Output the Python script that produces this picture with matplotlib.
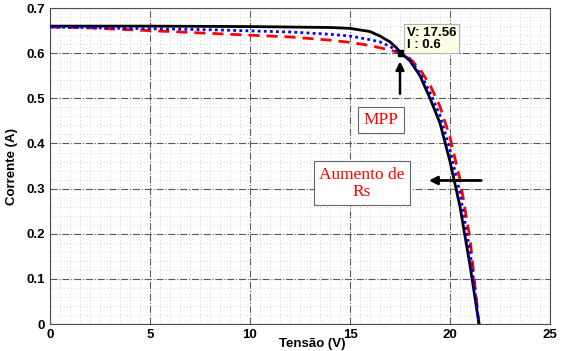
import numpy as np
import matplotlib.pyplot as plt
from matplotlib.ticker import MultipleLocator

# curva sem Rs (preta)
v_black = [0, 5, 10, 12, 14, 15, 16, 16.5, 17, 17.3, 17.56, 18, 18.5, 19, 19.5, 20, 20.5, 21, 21.45]
i_black = [0.66, 0.66, 0.659, 0.658, 0.657, 0.655, 0.648, 0.638, 0.625, 0.613, 0.6, 0.583, 0.55, 0.5, 0.445, 0.36, 0.26, 0.13, 0.0]

# Rs intermediaria (azul)
v_blue = [0, 4, 8, 12, 14, 15, 16, 16.5, 17, 17.56, 18, 18.5, 19, 19.5, 20, 20.5, 21, 21.45]
i_blue = [0.658, 0.655, 0.652, 0.647, 0.642, 0.638, 0.63, 0.625, 0.615, 0.6, 0.585, 0.556, 0.513, 0.462, 0.386, 0.29, 0.16, 0.0]

# Rs maior (vermelha)
v_red = [0, 2, 4, 6, 8, 10, 12, 14, 15, 16, 17, 17.56, 18, 18.5, 19, 19.5, 20, 20.5, 21, 21.45]
i_red = [0.658, 0.656, 0.652, 0.648, 0.644, 0.64, 0.636, 0.629, 0.624, 0.617, 0.607, 0.6, 0.588, 0.564, 0.53, 0.482, 0.414, 0.32, 0.19, 0.0]

v_mpp, i_mpp = 17.56, 0.6

x_ticks = [0, 5, 10, 15, 20, 25]
y_ticks = [0, 0.1, 0.2, 0.3, 0.4, 0.5, 0.6, 0.7]
y_labels = ['0', '0.1', '0.2', '0.3', '0.4', '0.5', '0.6', '0.7']

fig = plt.figure(figsize=(5.84, 3.51), dpi=100)
ax = fig.add_axes([0.0856, 0.0769, 0.8562, 0.9001])

ax.plot(v_black, i_black, color='black', lw=2, zorder=3)
ax.plot(v_blue, i_blue, color='blue', lw=2, ls=(0, (1, 1.2)), zorder=4)
ax.plot(v_red, i_red, color='red', lw=2, ls=(0, (4, 2.5)), zorder=2)
ax.plot([v_mpp], [i_mpp], marker='s', color='black', ms=5, zorder=6)

ax.set_xlim(0, 25)
ax.set_ylim(0, 0.7)
ax.set_xticks(x_ticks)
ax.set_yticks(y_ticks, y_labels)
ax.xaxis.set_minor_locator(MultipleLocator(0.5))
ax.yaxis.set_minor_locator(MultipleLocator(0.02))
ax.grid(which='major', ls='-.', color='0.35', lw=0.8)
ax.grid(which='minor', ls=(0, (1, 3)), color='0.78', lw=0.6)
ax.set_axisbelow(True)
ax.tick_params(which='both', direction='in', length=0)
for s in ax.spines.values():
    s.set_color('0.3')

for lab in ax.get_xticklabels() + ax.get_yticklabels():
    lab.set_fontfamily('Liberation Sans')
    lab.set_fontweight('bold')
    lab.set_fontsize(9.5)

ax.set_ylabel('Corrente (A)', fontfamily='Liberation Sans', fontweight='bold', fontsize=9.5, labelpad=6)
ax.set_xlabel('Tensão (V)', fontfamily='Liberation Sans', fontweight='bold', fontsize=9.5)
ax.xaxis.set_label_coords(0.524, -0.045)

# datatip
ax.text(17.85, 0.632, 'V: 17.56\nI : 0.6', fontsize=9.5, fontfamily='Liberation Sans',
        fontweight='bold', va='center', ha='left', linespacing=1.0,
        bbox=dict(boxstyle='square,pad=0.2', fc='#ffffe6', ec='0.7', lw=0.8), zorder=7)

# MPP
ax.annotate('', xy=(17.5, 0.588), xytext=(17.5, 0.504),
            arrowprops=dict(arrowstyle='-|>', color='black', lw=1.8, mutation_scale=12), zorder=7)
ax.text(16.55, 0.452, 'MPP', color='red', fontsize=12.5, fontfamily='Liberation Serif',
        ha='center', va='center',
        bbox=dict(boxstyle='square,pad=0.3', fc='white', ec='0.4', lw=0.8), zorder=7)

# Aumento de Rs
ax.annotate('', xy=(18.8, 0.318), xytext=(21.7, 0.318),
            arrowprops=dict(arrowstyle='-|>', color='black', lw=2, mutation_scale=12), zorder=7)
ax.text(15.6, 0.312, 'Aumento de\nRs', color='red', fontsize=12.5, fontfamily='Liberation Serif',
        ha='center', va='center', linespacing=1.1,
        bbox=dict(boxstyle='square,pad=0.3', fc='white', ec='0.4', lw=0.8), zorder=7)

fig.savefig('out.png', dpi=100)
